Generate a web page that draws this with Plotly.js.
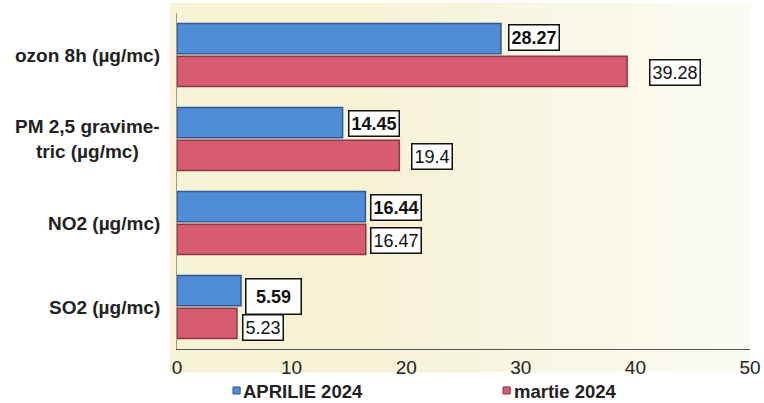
<!DOCTYPE html>
<html>
<head>
<meta charset="utf-8">
<script src="https://cdn.plot.ly/plotly-3.0.1.min.js"></script>
<style>html,body{margin:0;padding:0;background:#fff;}#chart{width:764px;height:403px;}</style>
</head>
<body>
<div id="chart"></div>
<script>
var categories = ["ozon 8h (µg/mc)", "PM 2,5 gravime-<br>tric (µg/mc)", "NO2 (µg/mc)", "SO2 (µg/mc)"];
var seriesNames = ["APRILIE 2024", "martie 2024"];
var aprilie = [28.27, 14.45, 16.44, 5.59];
var martie = [39.28, 19.4, 16.47, 5.23];
var tickValues = [0, 10, 20, 30, 40, 50];

var FONT = 'Liberation Sans, Arial, sans-serif';
var colA = '#4f8bd6', edgeA = '#2f5a94';
var colM = '#d85c70', edgeM = '#8e3544';

var traces = [
  {type:'bar', orientation:'h', name:seriesNames[0], y:categories, x:aprilie,
   marker:{color:colA, line:{color:edgeA, width:1.5}}, hoverinfo:'x'},
  {type:'bar', orientation:'h', name:seriesNames[1], y:categories, x:martie,
   marker:{color:colM, line:{color:edgeM, width:1.5}}, hoverinfo:'x'}
];

// label placement styling (pixel offsets), per category
var styleA = [{dx:7, dy:18}, {dx:5, dy:16}, {dx:5, dy:16}, {dx:4, dy:11, w:50, h:30}];
var styleM = [{dx:22, dy:-17}, {dx:12, dy:-17}, {dx:4, dy:-17}, {dx:5, dy:-20}];

var annotations = [];
function labelAnn(val, cat, st, bold) {
  var a = {x:val, y:cat, xref:'x', yref:'y', xanchor:'left', yanchor:'middle',
    xshift:st.dx, yshift:st.dy, text:bold ? '<b>'+val+'</b>' : String(val), showarrow:false,
    font:{family:FONT, size:18, color:'#111'},
    bgcolor:'#fff', bordercolor:'#111', borderwidth:1.5, borderpad:2};
  if (st.w) { a.width = st.w; a.height = st.h; a.align = 'center'; a.valign = 'middle'; }
  return a;
}
for (var i = 0; i < categories.length; i++) {
  annotations.push(labelAnn(aprilie[i], categories[i], styleA[i], true));
  annotations.push(labelAnn(martie[i], categories[i], styleM[i], false));
  // category labels (centered multi-line)
  annotations.push({x:0, y:categories[i], xref:'paper', yref:'y', xanchor:'right', yanchor:'middle',
    xshift:-15, text:'<b>'+categories[i]+'</b>', showarrow:false, align:'center',
    font:{family:FONT, size:19, color:'#222'}});
}

// soft cream background gradient behind the plot area
var shapes = [];
var N = 30, c0 = [245, 242, 214], c1 = [252, 251, 243];
for (var k = 0; k < N; k++) {
  var t = k / (N - 1);
  var tt = Math.max(0, (t - 0.35) / 0.65);
  var c = c0.map(function(v, j){ return Math.round(v + (c1[j] - v) * tt); });
  shapes.push({type:'rect', xref:'paper', yref:'paper', x0:-0.012 + k * (1.012 / N), x1:-0.012 + (k + 1) * (1.012 / N) + 0.002,
    y0:-0.07, y1:1.03, layer:'below', fillcolor:'rgb(' + c.join(',') + ')', line:{width:0}});
}

// legend drawn below the axis (marker squares + text)
var legendItems = [
  {name:seriesNames[0], color:colA, edge:edgeA, mx:0.0977, tx:0.1125},
  {name:seriesNames[1], color:colM, edge:edgeM, mx:0.569, tx:0.585}
];
legendItems.forEach(function(it){
  shapes.push({type:'rect', xref:'paper', yref:'paper', x0:it.mx, x1:it.mx + 0.0125, y0:-0.134, y1:-0.113,
    fillcolor:it.color, line:{color:it.edge, width:1}});
  annotations.push({x:it.tx, y:-0.127, xref:'paper', yref:'paper', xanchor:'left', yanchor:'middle',
    text:'<b>' + it.name + '</b>', showarrow:false, font:{family:FONT, size:18.5, color:'#222'}});
});

var layout = {
  width:764, height:403,
  margin:{l:177, r:14, t:13, b:54},
  paper_bgcolor:'#ffffff',
  plot_bgcolor:'rgba(0,0,0,0)',
  font:{family:FONT, color:'#222'},
  barmode:'group', bargap:0.22, bargroupgap:0.08,
  showlegend:false,
  xaxis:{range:[0,50], tickvals:tickValues, ticktext:tickValues.map(String), showgrid:false, zeroline:false,
    showline:true, linecolor:'#555', linewidth:1, ticks:'', ticklen:0, ticklabelstandoff:1,
    tickfont:{size:19, color:'#222'}, fixedrange:true, automargin:false},
  yaxis:{type:'category', autorange:'reversed', showgrid:false, zeroline:false,
    showline:true, linecolor:'#999', linewidth:1, ticks:'', showticklabels:false, fixedrange:true},
  shapes:shapes,
  annotations:annotations
};

Plotly.newPlot('chart', traces, layout, {displayModeBar:false, staticPlot:true});
</script>
</body>
</html>
